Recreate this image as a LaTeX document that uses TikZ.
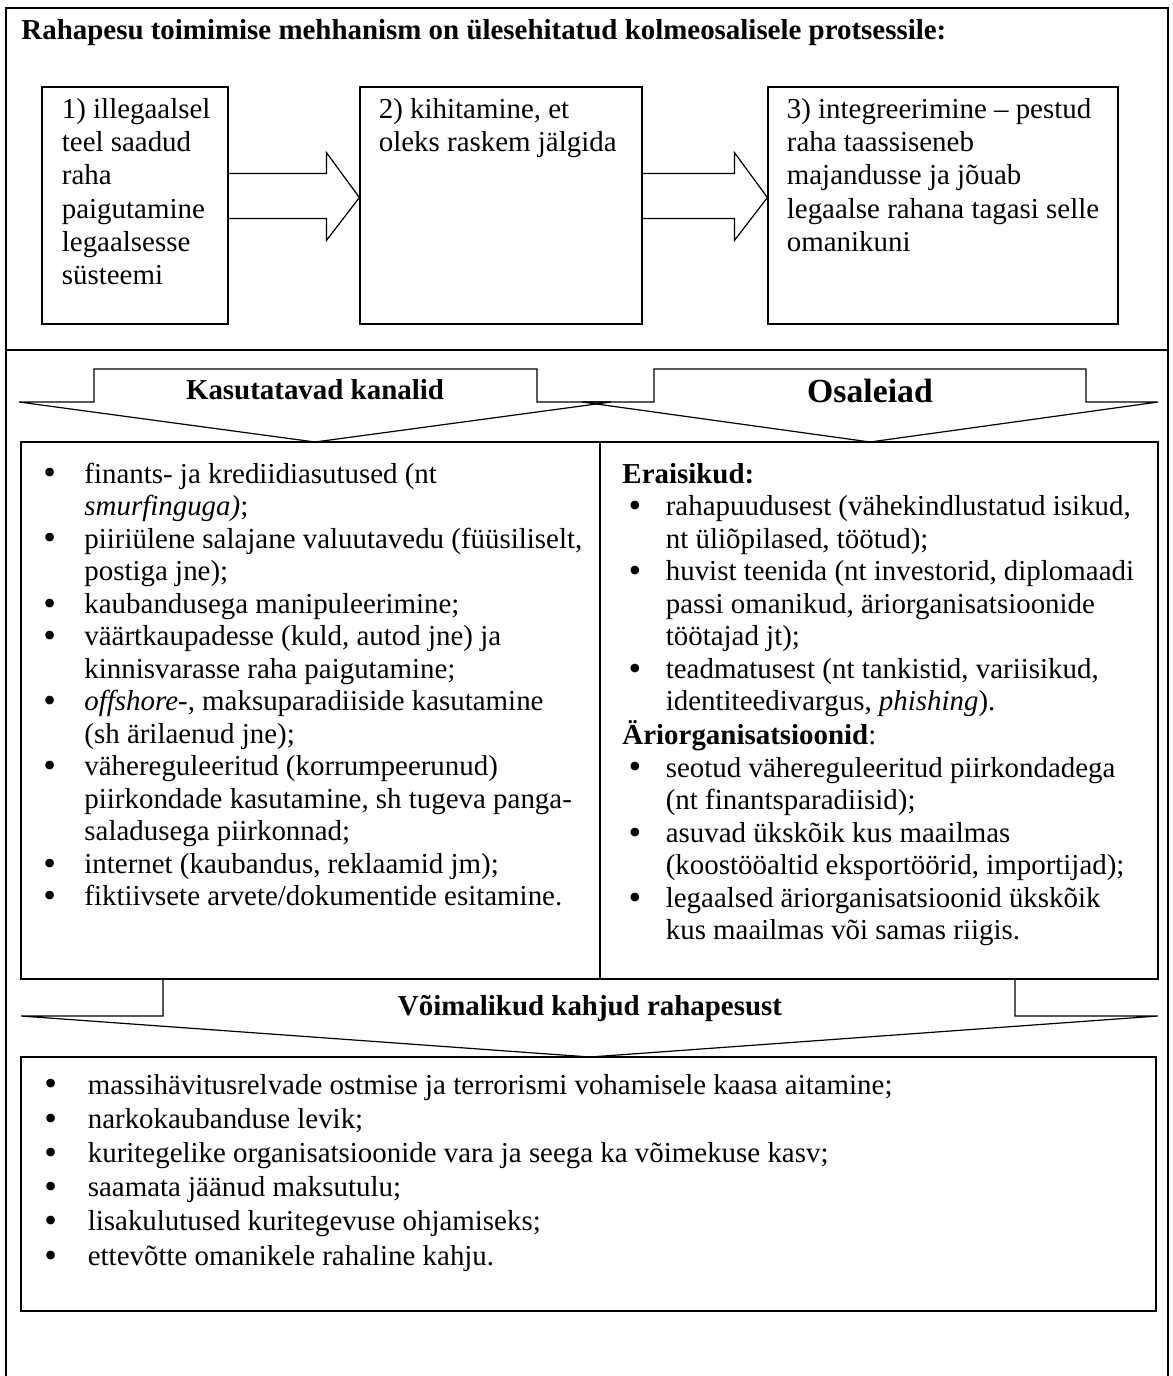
\documentclass[tikz,border=0pt]{standalone}
\usepackage{fontspec}
\setmainfont{Liberation Serif}
\usetikzlibrary{calc,fit}

\newcommand{\itm}[1][17pt]{\makebox[#1][l]{\raisebox{-0.8pt}{\fontsize{15}{15}\selectfont\textbullet}}}
\newcommand{\fatarrow}[2]{%
  \draw[outline] ($(#1.east)+(0,-32)$) -- ($(#2.west)+(-33,-32)$) -- ($(#2.west)+(-33,-53)$)
    -- ($(#2.west)+(0,-8)$) -- ($(#2.west)+(-33,35)$) -- ($(#2.west)+(-33,13)$) -- ($(#1.east)+(0,13)$);}

\begin{document}
\begin{tikzpicture}[
  x=0.415pt, y=-0.415pt,
  frame/.style={line width=1pt},
  box/.style={draw, line width=0.5pt, inner sep=0pt},
  panel/.style={draw, line width=0.6pt, inner sep=0pt},
  outline/.style={line width=0.5pt, line join=miter},
  body/.style={font=\fontsize{12}{13.8}\selectfont, inner sep=0pt, anchor=base west},
  list/.style={font=\fontsize{12}{13.5}\selectfont, inner sep=0pt, anchor=base west},
  head/.style={font=\fontsize{12}{14}\selectfont\bfseries, inner sep=0pt}
]
\useasboundingbox (0,0) rectangle (1173,1376);

% outer frame, open at the bottom
\draw[frame] (6,1376) -- (6,8) -- (1168,8) -- (1168,1376);
\draw[frame] (6,350) -- (1168,350);

\node[head, anchor=base west] (title) at (21,39) {Rahapesu toimimise mehhanism on ülesehitatud kolmeosalisele protsessile:};

% three stages
\node[box, fit={(42,87) (228,324)}] (place) {};
\node[box, fit={(360,87) (642,324)}] (layer) {};
\node[box, fit={(768,87) (1118,324)}] (integ) {};

\node[body] (placetxt) at ($(place.north west)+(20,32)$) {\begin{tabular}[t]{@{}l@{}}1) illegaalsel\\teel saadud\\raha\\paigutamine\\legaalsesse\\süsteemi\end{tabular}};
\node[body] (layertxt) at ($(layer.north west)+(19,32)$) {\begin{tabular}[t]{@{}l@{}}2) kihitamine, et\\oleks raskem jälgida\end{tabular}};
\node[body] (integtxt) at ($(integ.north west)+(19,32)$) {\begin{tabular}[t]{@{}l@{}}3) integreerimine -- pestud\\raha taassiseneb\\majandusse ja jõuab\\legaalse rahana tagasi selle\\omanikuni\end{tabular}};

\fatarrow{place}{layer}
\fatarrow{layer}{integ}

% channels and participants
\draw[outline] (19,402) -- (94,402) -- (94,369) -- (537,369) -- (537,402) -- (611,402) -- (315,442) -- cycle;
\draw[outline] (582,402) -- (654,402) -- (654,369) -- (1086,369) -- (1086,402) -- (1158,402) -- (870,442) -- cycle;
\node[head] (chanhead) at (315,390) {Kasutatavad kanalid};
\node[head, font=\fontsize{14}{16}\selectfont\bfseries] (actorhead) at (870,391) {Osaleiad};

\node[panel, fit={(21,442) (600,979)}] (chan) {};
\node[panel, fit={(600,442) (1158,979)}] (actors) {};

\node[list] (chanlist) at (43,483) {\begin{tabular}[t]{@{}l@{}}
\itm finants- ja krediidiasutused (nt\\
\hspace*{17pt}\textit{smurfinguga)};\\
\itm piiriülene salajane valuutavedu (füüsiliselt,\\
\hspace*{17pt}postiga jne);\\
\itm kaubandusega manipuleerimine;\\
\itm väärtkaupadesse (kuld, autod jne) ja\\
\hspace*{17pt}kinnisvarasse raha paigutamine;\\
\itm \textit{offshore-}, maksuparadiiside kasutamine\\
\hspace*{17pt}(sh ärilaenud jne);\\
\itm vähereguleeritud (korrumpeerunud)\\
\hspace*{17pt}piirkondade kasutamine, sh tugeva panga-\\
\hspace*{17pt}saladusega piirkonnad;\\
\itm internet (kaubandus, reklaamid jm);\\
\itm fiktiivsete arvete/dokumentide esitamine.
\end{tabular}};

\node[list] (actorlist) at (622,483) {\begin{tabular}[t]{@{}l@{}}
\textbf{Eraisikud:}\\
\hspace*{2.5pt}\itm[15.5pt]rahapuudusest (vähekindlustatud isikud,\\
\hspace*{18pt}nt üliõpilased, töötud);\\
\hspace*{2.5pt}\itm[15.5pt]huvist teenida (nt investorid, diplomaadi\\
\hspace*{18pt}passi omanikud, äriorganisatsioonide\\
\hspace*{18pt}töötajad jt);\\
\hspace*{2.5pt}\itm[15.5pt]teadmatusest (nt tankistid, variisikud,\\
\hspace*{18pt}identiteedivargus, \textit{phishing}).\\
\textbf{Äriorganisatsioonid}:\\
\hspace*{2.5pt}\itm[15.5pt]seotud vähereguleeritud piirkondadega\\
\hspace*{18pt}(nt finantsparadiisid);\\
\hspace*{2.5pt}\itm[15.5pt]asuvad ükskõik kus maailmas\\
\hspace*{18pt}(koostööaltid eksportöörid, importijad);\\
\hspace*{2.5pt}\itm[15.5pt]legaalsed äriorganisatsioonid ükskõik\\
\hspace*{18pt}kus maailmas või samas riigis.
\end{tabular}};

% possible damage
\draw[outline] (21,1016) -- (163,1016) -- (163,979) -- (1015,979) -- (1015,1016) -- (1158,1016) -- (590,1057) -- cycle;
\node[head] (harmhead) at (590,1008) {Võimalikud kahjud rahapesust};

\node[panel, fit={(21,1057) (1156,1311)}] (harm) {};
\node[list, font=\fontsize{12}{14.2}\selectfont] (harmlist) at (44,1094) {\begin{tabular}[t]{@{}l@{}}
\itm[18pt]massihävitusrelvade ostmise ja terrorismi vohamisele kaasa aitamine;\\
\itm[18pt]narkokaubanduse levik;\\
\itm[18pt]kuritegelike organisatsioonide vara ja seega ka võimekuse kasv;\\
\itm[18pt]saamata jäänud maksutulu;\\
\itm[18pt]lisakulutused kuritegevuse ohjamiseks;\\
\itm[18pt]ettevõtte omanikele rahaline kahju.
\end{tabular}};
\end{tikzpicture}
\end{document}
